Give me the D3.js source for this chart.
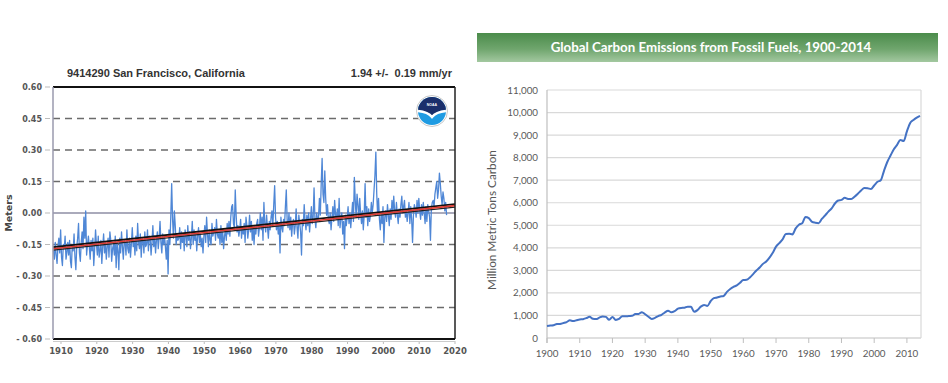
<!DOCTYPE html>
<html><head><meta charset="utf-8">
<script src="https://cdn.jsdelivr.net/npm/d3@7"></script>
<style>body{margin:0;background:#fff;}svg{display:block;}</style>
</head><body>
<svg id="c" width="948" height="383"></svg>
<script>
// ---------- Left chart data (San Francisco mean sea level, cm, quarterly samples) ----------
const seaStartYear = 1907.9;
const seaStep = 0.25;
const seaLevelCm = [
-18,-22,-14,-20, -24,-16,-12,-19, -8,-21,-25,-15, -17,-11,-22,-19, -14,-20,-13,-23,
-26,-15,-18,-10, -21,-27,-16,-12, -5,-19,-23,-14, -9,-17,-2,-12, 1,-20,-15,-11,
-16,-22,-13,-18, -12,-25,-17,-8, -15,-20,-11,-21, -18,-13,-24,-16, -10,-19,-14,-22,
-16,-12,-21,-9, -13,-23,-17,-15, -20,-11,-26,-14, -18,-27,-12,-19, -9,-16,-22,-13,
-14,-20,-8,-17, -19,-12,-21,-15, -7,-16,-13,-20, -11,-18,-5,-14, -17,-10,-21,-12,
-13,-19,-9,-16, -15,-8,-18,-11, -12,-20,-14,-6, -16,-11,-19,-13, -9,-17,-12,-4,
-14,-19,-10,-15, -11,-16,-22,-13, -29,-8,-15,-2, 14,-3,-12,1, -6,-15,-10,-13,
-12,-7,-17,-9, -14,-10,-18,-8, -11,-16,-6,-13, -9,-17,-12,-4, -15,-8,-13,-10,
-18,-11,-7,-14, -10,-16,-12,-19, -11,-6,-14,-2, -10,-16,-8,-13, -15,-5,-11,-9,
-7,-13,-3,-10, -12,-8,-15,-6, -14,-9,-17,-11, -8,-13,-5,-10, -4,-11,-2,3,
4,-5,-7,11, -1,-9,-6,-11, -8,-3,-12,-7, -10,-5,-14,-2, -6,-12,-8,-1,
-9,-4,-13,-7, -15,-6,-10,-5, -3,-11,-7,0, -8,-2,-13,5, -5,-9,-1,-7,
-12,-4,-8,-2, 1,-6,4,13, -2,-8,-4,-10, -5,-19,-2,-7, -9,-3,-6,3,
11,-4,-7,0, -8,-2,-11,-5, -3,-10,-6,2, -7,-12,-1,-5, -9,-20,-3,-6,
4,-4,-8,-1, -6,0,-9,-3, 3,-5,-2,12, -3,-7,0,-4, -2,7,-1,14,
26,9,5,20, 7,-1,4,-3, -5,0,-8,-2, 3,-4,6,-1, -3,2,-6,7,
-7,-2,0,-10, -4,-17,-1,-6, -2,3,-5,0, -7,-1,5,-4, 17,6,-2,9,
4,-3,7,0, -5,1,-8,-1, 14,-2,3,-6, 2,-4,-1,5, 0,4,11,18,
29,9,-1,7, -3,-8,0,-5, 3,-14,-2,1, -4,4,-1,-6, 2,-3,6,0,
8,1,-2,5, -1,-5,2,-2, 4,8,0,3, 6,-2,1,-4, 0,5,-5,3,
-3,-14,-1,4, 2,-2,6,0, 7,1,-3,4, -1,5,0,-5, 3,-4,4,1,
-2,-13,2,5, 6,3,9,12, 15,7,11,19, 14,8,4,10, 7,1,5,-1
];
const trendYears = [1907.8, 2020];
const trendMeters = [-0.170, 0.035];
const trendBand = 0.007;
const leftYTicks = [0.60, 0.45, 0.30, 0.15, 0.00, -0.15, -0.30, -0.45, -0.60];
const leftXTicks = [1910,1920,1930,1940,1950,1960,1970,1980,1990,2000,2010,2020];

// ---------- Right chart data (Global carbon emissions, million metric tons C) ----------
const carbonYears = d3.range(1900, 2015);
const carbonValues = [
534,552,566,617,624,663,707,784,750,785,
819,836,879,943,850,838,901,955,936,806,
932,803,845,970,963,975,983,1062,1065,1145,
1053,940,847,893,973,1027,1130,1209,1142,1192,
1299,1334,1342,1391,1383,1160,1238,1392,1469,1419,
1630,1768,1796,1841,1865,2043,2177,2270,2330,2454,
2569,2580,2686,2833,2995,3130,3288,3393,3566,3780,
4053,4208,4376,4614,4623,4596,4864,5026,5087,5369,
5315,5152,5113,5094,5280,5439,5607,5752,5965,6097,
6127,6217,6164,6162,6266,6398,6542,6651,6643,6610,
6765,6927,6996,7416,7807,8093,8370,8566,8783,8740,
9167,9538,9667,9775,9855
];
const rightYTicks = [0,1000,2000,3000,4000,5000,6000,7000,8000,9000,10000,11000];
const rightXTicks = [1900,1910,1920,1930,1940,1950,1960,1970,1980,1990,2000,2010];

const svg = d3.select("#c");
const defs = svg.append("defs");

// ================= LEFT CHART =================
const L = {x0:53, x1:455, y0:87, y1:339};
const xL = d3.scaleLinear().domain([1907.77, 2020]).range([L.x0, L.x1]);
const yL = d3.scaleLinear().domain([-0.6, 0.6]).range([L.y1, L.y0]);
const gL = svg.append("g");
const boldFont = "'DejaVu Sans', sans-serif";

gL.append("text").attr("x",67).attr("y",77).attr("font-family","'Liberation Sans', sans-serif")
  .attr("font-weight","bold").attr("font-size",11).attr("fill","#333").text("9414290 San Francisco, California");
gL.append("text").attr("x",452).attr("y",77).attr("text-anchor","end").attr("font-family","'Liberation Sans', sans-serif")
  .attr("font-weight","bold").attr("font-size",11).attr("fill","#333").attr("xml:space","preserve").text("1.94 +/-  0.19 mm/yr");

// grid lines
leftYTicks.filter(v => Math.abs(v) > 0.01 && Math.abs(v) < 0.59).forEach(v => {
  gL.append("line").attr("x1",L.x0).attr("x2",L.x1).attr("y1",yL(v)).attr("y2",yL(v))
    .attr("stroke","#6b6b6b").attr("stroke-width",1.3).attr("stroke-dasharray","7,5");
});
gL.append("line").attr("x1",L.x0).attr("x2",L.x1).attr("y1",yL(0)).attr("y2",yL(0))
  .attr("stroke","#8e8ea4").attr("stroke-width",1.5);

// y axis ticks and labels
leftYTicks.forEach(v => {
  gL.append("line").attr("x1",45).attr("x2",50).attr("y1",yL(v)).attr("y2",yL(v)).attr("stroke","#bbb");
  gL.append("text").attr("x",42).attr("y",yL(v)+3).attr("text-anchor","end")
    .attr("font-family",boldFont).attr("font-weight","bold").attr("font-size",8).attr("fill","#555")
    .text(v < 0 ? "- " + Math.abs(v).toFixed(2) : v.toFixed(2));
});
gL.append("text").attr("transform",`translate(12,${yL(0)}) rotate(-90)`).attr("text-anchor","middle")
  .attr("font-family",boldFont).attr("font-weight","bold").attr("font-size",9.5).attr("fill","#444").text("Meters");

// x axis ticks & labels
leftXTicks.forEach(t => {
  gL.append("line").attr("x1",xL(t)).attr("x2",xL(t)).attr("y1",L.y1+2).attr("y2",L.y1+5).attr("stroke","#bbb");
  gL.append("text").attr("x",xL(t)).attr("y",354).attr("text-anchor","middle")
    .attr("font-family",boldFont).attr("font-weight","bold").attr("font-size",8.5).attr("fill","#555").text(t);
});

// data line
const seaLine = d3.line().x((d,i) => xL(seaStartYear + i*seaStep)).y(d => yL(d/100));
gL.append("path").datum(seaLevelCm).attr("d",seaLine).attr("fill","none")
  .attr("stroke","#4f87d6").attr("stroke-width",1.3).attr("stroke-linejoin","round");

// trend lines
const tl = (off, col, w) => gL.append("line")
  .attr("x1",xL(trendYears[0])).attr("x2",xL(trendYears[1]))
  .attr("y1",yL(trendMeters[0]+off)).attr("y2",yL(trendMeters[1]+off))
  .attr("stroke",col).attr("stroke-width",w);
tl(trendBand, "#111", 1.8);
tl(-trendBand, "#222", 1.2);
tl(0, "#e03c31", 1.6);

// frame
gL.append("line").attr("x1",L.x0).attr("x2",L.x1).attr("y1",L.y0).attr("y2",L.y0).attr("stroke","#111").attr("stroke-width",2);
gL.append("line").attr("x1",L.x1).attr("x2",L.x1).attr("y1",L.y0).attr("y2",L.y1).attr("stroke","#222").attr("stroke-width",1.5);
gL.append("line").attr("x1",L.x0).attr("x2",L.x1).attr("y1",L.y1).attr("y2",L.y1).attr("stroke","#111").attr("stroke-width",2);
gL.append("line").attr("x1",L.x0).attr("x2",L.x1).attr("y1",L.y1+2.5).attr("y2",L.y1+2.5).attr("stroke","#ccc").attr("stroke-width",1);
gL.append("line").attr("x1",L.x0).attr("x2",L.x0).attr("y1",L.y0).attr("y2",L.y1).attr("stroke","#9a9aae").attr("stroke-width",1.5);

// NOAA-like logo
const lc = {x:432, y:111, r:14};
defs.append("clipPath").attr("id","logoClip").append("circle").attr("cx",lc.x).attr("cy",lc.y).attr("r",lc.r);
const lg = gL.append("g");
lg.append("circle").attr("cx",lc.x).attr("cy",lc.y).attr("r",lc.r+1.5).attr("fill","#fff").attr("stroke","#c8c8c8");
const lgc = lg.append("g").attr("clip-path","url(#logoClip)");
lgc.append("rect").attr("x",lc.x-lc.r).attr("y",lc.y-lc.r).attr("width",2*lc.r).attr("height",2*lc.r).attr("fill","#1f9be2");
lgc.append("path").attr("d",`M${lc.x-lc.r},${lc.y-lc.r} L${lc.x+lc.r},${lc.y-lc.r} L${lc.x+lc.r},${lc.y-1} Q${lc.x+4},${lc.y} ${lc.x},${lc.y+5} Q${lc.x-4},${lc.y} ${lc.x-lc.r},${lc.y-1} Z`)
  .attr("fill","#1b2f6b");
lgc.append("path").attr("d",`M${lc.x-lc.r},${lc.y} Q${lc.x-4},${lc.y+1} ${lc.x},${lc.y+6} Q${lc.x+4},${lc.y+1} ${lc.x+lc.r},${lc.y}`)
  .attr("fill","none").attr("stroke","#fff").attr("stroke-width",2.5);
lg.append("text").attr("x",lc.x).attr("y",lc.y-5).attr("text-anchor","middle").attr("font-family","'Liberation Sans',sans-serif")
  .attr("font-size",3.5).attr("font-weight","bold").attr("fill","#fff").text("NOAA");

// ================= RIGHT CHART =================
const R = {x0:547, x1:920, y0:90, y1:338};
const xR = d3.scaleLinear().domain([1900, 2014]).range([R.x0, R.x1]);
const yR = d3.scaleLinear().domain([0, 11000]).range([R.y1, R.y0]);
const gR = svg.append("g");
const rFont = "Lato, 'Open Sans', sans-serif";

// banner
const grad = defs.append("linearGradient").attr("id","bannerGrad").attr("x1",0).attr("y1",0).attr("x2",0).attr("y2",1);
grad.append("stop").attr("offset","0%").attr("stop-color","#4b8c4b");
grad.append("stop").attr("offset","55%").attr("stop-color","#6fa56d");
grad.append("stop").attr("offset","100%").attr("stop-color","#a3c8a0");
gR.append("rect").attr("x",477).attr("y",33).attr("width",461).attr("height",29).attr("fill","url(#bannerGrad)");
gR.append("text").attr("x",711).attr("y",52).attr("text-anchor","middle").attr("font-family",rFont)
  .attr("font-weight","bold").attr("font-size",13.3).attr("fill","#fff").text("Global Carbon Emissions from Fossil Fuels, 1900-2014");

// gridlines
rightYTicks.forEach(v => {
  gR.append("line").attr("x1",R.x0).attr("x2",R.x1+1).attr("y1",yR(v)).attr("y2",yR(v))
    .attr("stroke", v === 0 ? "#bfbfbf" : "#d9d9d9").attr("stroke-width",1.2);
  gR.append("text").attr("x",538).attr("y",yR(v)+3.5).attr("text-anchor","end").attr("font-family",rFont)
    .attr("font-size",9.8).attr("fill","#595959").text(d3.format(",")(v));
});
gR.append("line").attr("x1",R.x0).attr("x2",R.x0).attr("y1",R.y0).attr("y2",R.y1+5).attr("stroke","#bfbfbf").attr("stroke-width",1.2);
gR.append("line").attr("x1",R.x1+1).attr("x2",R.x1+1).attr("y1",R.y0).attr("y2",R.y1).attr("stroke","#d9d9d9").attr("stroke-width",1.2);

rightXTicks.forEach(t => {
  gR.append("line").attr("x1",xR(t)).attr("x2",xR(t)).attr("y1",R.y1).attr("y2",R.y1+5).attr("stroke","#bfbfbf");
  gR.append("text").attr("x",xR(t)).attr("y",357).attr("text-anchor","middle").attr("font-family",rFont)
    .attr("font-size",9.8).attr("fill","#595959").text(t);
});

gR.append("text").attr("transform",`translate(496,${(R.y0+R.y1)/2 + 6}) rotate(-90)`).attr("text-anchor","middle")
  .attr("font-family",rFont).attr("font-size",11.8).attr("fill","#595959").text("Million Metric Tons Carbon");

const cLine = d3.line().x((d,i) => xR(carbonYears[i])).y(d => yR(d)).curve(d3.curveMonotoneX);
gR.append("path").datum(carbonValues).attr("d",cLine).attr("fill","none")
  .attr("stroke","#4472c4").attr("stroke-width",2).attr("stroke-linejoin","round");
</script>
</body></html>
